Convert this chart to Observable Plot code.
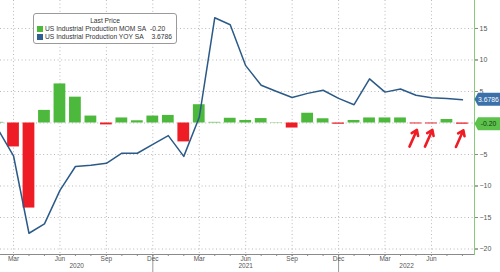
<!DOCTYPE html>
<html><head><meta charset="utf-8">
<script src="https://cdn.jsdelivr.net/npm/d3@7"></script>
<script src="https://cdn.jsdelivr.net/npm/@observablehq/plot@0.6"></script>
<style>
body{margin:0;background:#fff;}
#wrap{position:relative;width:500px;height:272px;overflow:hidden;}
.legend{position:absolute;left:33px;top:13px;width:144px;height:31px;border:1px solid #9a9a9a;border-radius:3px;background:#fff;font-family:"Liberation Sans",Arial,sans-serif;font-size:6.7px;color:#333;box-sizing:border-box;}
.legend .t{position:absolute;left:0;right:0;top:3px;text-align:center;}
.legend .r{position:absolute;left:3px;right:3px;height:8px;line-height:8px;white-space:nowrap;}
.legend .sw{display:inline-block;width:6px;height:6px;vertical-align:-1px;margin-right:2px;}
.legend .v{position:absolute;top:0;}
</style></head><body><div id="wrap"></div>
<script>
const months = ["Feb 2020","Mar 2020","Apr 2020","May 2020","Jun 2020","Jul 2020","Aug 2020","Sep 2020","Oct 2020","Nov 2020","Dec 2020",
  "Jan 2021","Feb 2021","Mar 2021","Apr 2021","May 2021","Jun 2021","Jul 2021","Aug 2021","Sep 2021","Oct 2021","Nov 2021","Dec 2021",
  "Jan 2022","Feb 2022","Mar 2022","Apr 2022","May 2022","Jun 2022","Jul 2022","Aug 2022"];
const mom = [0.1,-3.8,-13.5,2.0,6.2,4.1,1.1,-0.3,0.8,0.35,1.1,
  1.2,-3.0,2.9,0.1,0.75,0.4,0.7,0.05,-0.8,1.55,0.67,-0.2,
  0.4,0.8,0.8,0.8,-0.15,-0.15,0.55,-0.2];
const yoy = [-1.0,-5.2,-17.5,-16.0,-10.7,-6.9,-6.7,-6.4,-4.8,-4.8,-3.4,
  -2.0,-5.3,0.9,16.7,15.6,9.1,6.0,5.0,4.05,4.7,5.2,3.9,
  2.9,7.0,4.9,5.4,4.4,4.0,3.9,3.6786];
const yTicks = [-20,-15,-10,-5,0,5,10,15];
const yLabelTicks = [-20,-15,-10,-5,5,10,15];
const tickMonths = ["Mar","Jun","Sep","Dec"];
const years = ["2020","2021","2022"];
const arrowMonths = ["May 2022","Jun 2022","Aug 2022"];
const seriesNames = ["US Industrial Production MOM SA","US Industrial Production YOY SA"];
const lastLabels = ["-0.20","3.6786"];

const GREEN = "#4cb83c", RED = "#ee1c25", BLUE = "#2b5a88";
const data = months.map((m, i) => ({i, m, mom: mom[i], yoy: yoy[i]}));
const xDomain = [0.16, 30.78];
const minorIdx = data.filter(d => d.i >= xDomain[0]).map(d => d.i);
const quarterIdx = data.filter(d => tickMonths.includes(d.m.slice(0, 3))).map(d => d.i);
const sepIdx = data.filter(d => d.m.startsWith("Dec")).map(d => d.i);
const bounds = [xDomain[0], ...sepIdx, xDomain[1]];
const yearData = years.map((y, k) => ({y, x: (bounds[k] + bounds[k + 1]) / 2}));
const arrowData = data.filter(d => arrowMonths.includes(d.m));
const grid = {stroke: "#b8b8b8", strokeDasharray: "1,2.6", strokeWidth: 1};

const plot = Plot.plot({
  width: 500, height: 272,
  marginLeft: 0, marginRight: 26, marginTop: 0, marginBottom: 18,
  style: {fontFamily: "Liberation Sans, Arial, sans-serif", background: "#fff"},
  x: {type: "linear", domain: xDomain, range: [0, 474], axis: null},
  y: {domain: [-20.87, 19.44], axis: null},
  color: {type: "identity"},
  marks: [
    Plot.ruleX(quarterIdx, grid),
    Plot.ruleY(yTicks, grid),
    Plot.rectY(data, {x1: d => d.i - 0.38, x2: d => d.i + 0.38, y1: 0, y2: "mom",
      fill: d => d.mom < 0 ? RED : GREEN, clip: true}),
    Plot.line(data, {x: "i", y: "yoy", stroke: BLUE, strokeWidth: 1.5, clip: true}),
    Plot.arrow(arrowData, {x1: d => d.i - 0.42, y1: d => d.mom - 3.6, x2: d => d.i + 0.06, y2: d => d.mom - 0.95,
      stroke: RED, strokeWidth: 2.6, headLength: 7, headAngle: 70}),
    Plot.frame({anchor: "bottom", stroke: "#8a8a8a"}),
    Plot.frame({anchor: "right", stroke: "#86cc78"}),
    Plot.axisX(minorIdx, {tickSize: 2, tickFormat: () => "", stroke: "#8a8a8a"}),
    Plot.axisX(sepIdx, {tickSize: 18, tickFormat: () => "", stroke: "#999"}),
    Plot.axisX(quarterIdx, {tickSize: 2, tickPadding: 0, stroke: "#8a8a8a",
      tickFormat: i => months[i].slice(0, 3), fontSize: 6.5, fill: "#555"}),
    Plot.text(yearData, {x: "x", text: "y", frameAnchor: "bottom", dy: 13.5, fontSize: 6.5, fill: "#555"}),
    Plot.axisY(yTicks, {anchor: "right", tickSize: 3, tickFormat: () => "", stroke: "#8a8a8a"}),
    Plot.axisY(yLabelTicks, {anchor: "right", tickSize: 3, tickPadding: 2, fontSize: 7, fill: "#555", stroke: "#8a8a8a",
      textAnchor: "start"})
  ]
});

const wrap = document.getElementById("wrap");
wrap.appendChild(plot);

// last-value tags on the right axis, positioned with the plot's y scale
const ys = plot.scale("y");
const svg = d3.select(plot);
const tags = [{v: yoy[yoy.length - 1], label: lastLabels[1], fill: "#3b70aa", color: "#fff"},
              {v: mom[mom.length - 1], label: lastLabels[0], fill: "#5cc24c", color: "#163810"}];
for (const t of tags) {
  const cy = ys.apply(t.v);
  const g = svg.append("g");
  g.append("path")
    .attr("d", `M474.5,${cy} L478,${cy - 6.5} L500,${cy - 6.5} L500,${cy + 6.5} L478,${cy + 6.5} Z`)
    .attr("fill", t.fill);
  g.append("text").attr("x", 488.5).attr("y", cy).attr("dy", "0.35em")
    .attr("text-anchor", "middle").attr("font-size", 6.8).attr("fill", t.color)
    .attr("font-family", "Liberation Sans, Arial, sans-serif").text(t.label);
}

// legend
const lg = document.createElement("div");
lg.className = "legend";
lg.innerHTML = `<div class="t">Last Price</div>
<div class="r" style="top:11px"><span class="sw" style="background:${GREEN}"></span>${seriesNames[0]}<span class="v" style="left:113px">${lastLabels[0]}</span></div>
<div class="r" style="top:18.5px"><span class="sw" style="background:#2f5f91"></span>${seriesNames[1]}<span class="v" style="right:1px">${lastLabels[1]}</span></div>`;
wrap.appendChild(lg);
</script></body></html>
